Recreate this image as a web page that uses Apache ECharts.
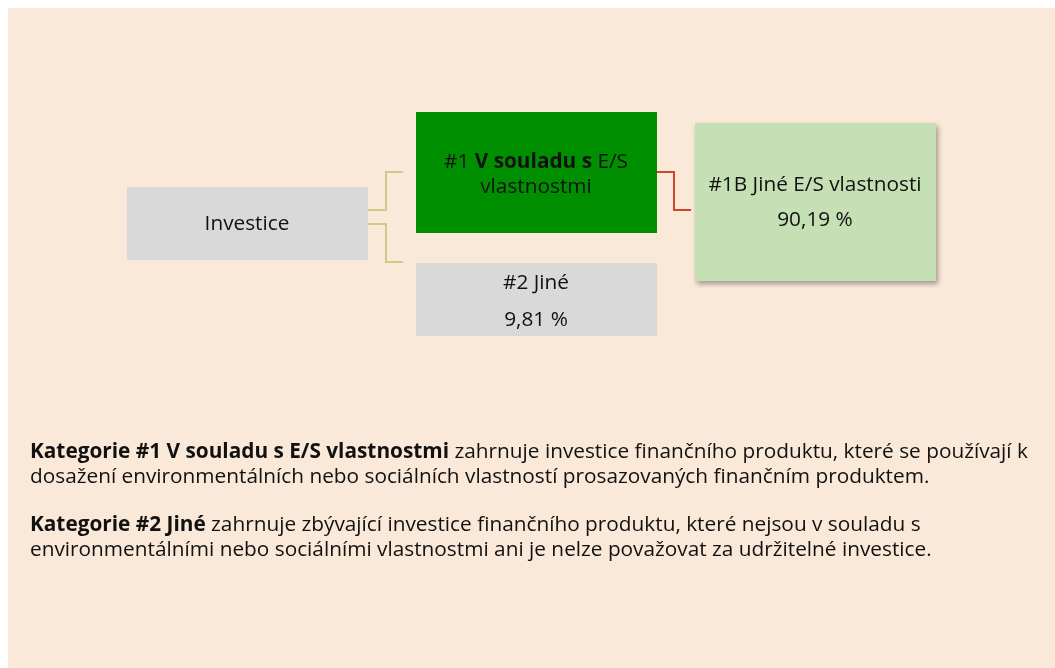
<!DOCTYPE html>
<html>
<head>
<meta charset="utf-8">
<script src="https://cdn.jsdelivr.net/npm/echarts@6/dist/echarts.min.js"></script>
<style>
  html, body { margin: 0; padding: 0; background: #fff; }
  #chart { width: 1055px; height: 668px; }
</style>
</head>
<body>
<div id="chart"></div>
<script>
// uzly diagramu
const rootName = 'Investice'
const mainCat = ['#1 ', 'V souladu s', ' E/S', 'vlastnostmi']
const otherCat = '#2 Jiné'
const subCat = '#1B Jiné E/S vlastnosti'
const shares = [90.19, 9.81] // #1B, #2

// popisky pod diagramem
const note1Bold = 'Kategorie #1 V souladu s E/S vlastnostmi'
const note1Rest = ' zahrnuje investice finančního produktu, které se používají k'
const note1Line2 = 'dosažení environmentálních nebo sociálních vlastností prosazovaných finančním produktem.'
const note2Bold = 'Kategorie #2 Jiné'
const note2Rest = ' zahrnuje zbývající investice finančního produktu, které nejsou v souladu s'
const note2Line2 = 'environmentálními nebo sociálními vlastnostmi ani je nelze považovat za udržitelné investice.'

const fmt = v => v.toFixed(2).replace('.', ',') + ' %'
const FONT = '"Open Sans", sans-serif'
const BOX_FS = 20.8
const NOTE_FS = 20.8

const chart = echarts.init(document.getElementById('chart'))

function box (x, y, w, h, fill, shadow) {
  const s = { fill: fill }
  if (shadow) {
    s.shadowBlur = 5
    s.shadowOffsetX = 2
    s.shadowOffsetY = 3
    s.shadowColor = 'rgba(0,0,0,0.35)'
  }
  return { type: 'rect', shape: { x: x, y: y, width: w, height: h }, style: s }
}
function txt (x, y, text, size) {
  return {
    type: 'text',
    x: x,
    y: y,
    style: {
      text: text,
      fill: '#111',
      font: size + 'px ' + FONT,
      align: 'center',
      verticalAlign: 'middle'
    }
  }
}
function elbow (pts, color, w) {
  return {
    type: 'polyline',
    shape: { points: pts },
    style: { stroke: color, lineWidth: w, fill: null }
  }
}
function richStyle (size) {
  return {
    n: { fontSize: size, fontFamily: FONT, fill: '#111', lineHeight: 25 },
    b: { fontSize: size, fontFamily: FONT, fontWeight: 'bold', fill: '#111', lineHeight: 25 }
  }
}

const option = {
  animation: false,
  graphic: [
    box(8, 8, 1047, 660, '#FAE8D8'),
    // spojnice
    elbow([[368, 210], [386, 210], [386, 172], [403, 172]], '#D2C88C', 2),
    elbow([[368, 224], [386, 224], [386, 262], [403, 262]], '#D2C88C', 2),
    elbow([[657, 172], [674, 172], [674, 210], [691, 210]], '#C9472B', 2),
    // bloky
    box(127, 187, 241, 73, '#D9D9D9'),
    txt(247, 224, rootName, BOX_FS),
    box(416, 112, 241, 121, '#008F00'),
    {
      type: 'text',
      x: 536,
      y: 175,
      style: {
        text: '{n|' + mainCat[0] + '}{b|' + mainCat[1] + '}{n|' + mainCat[2] + '}\n{n|' + mainCat[3] + '}',
        rich: richStyle(BOX_FS),
        align: 'center',
        verticalAlign: 'middle'
      }
    },
    box(416, 263, 241, 73, '#D9D9D9'),
    txt(536, 283, otherCat, BOX_FS),
    txt(536, 320, fmt(shares[1]), BOX_FS),
    box(695, 123, 241, 158, '#C5E0B4', true),
    txt(815, 185, subCat, BOX_FS),
    txt(815, 220, fmt(shares[0]), BOX_FS),
    // vysvětlivky
    {
      type: 'text',
      x: 30,
      y: 440,
      style: {
        text: '{b|' + note1Bold + '}{n|' + note1Rest + '}\n{n|' + note1Line2 + '}',
        rich: richStyle(NOTE_FS),
        align: 'left',
        verticalAlign: 'top'
      }
    },
    {
      type: 'text',
      x: 30,
      y: 513,
      style: {
        text: '{b|' + note2Bold + '}{n|' + note2Rest + '}\n{n|' + note2Line2 + '}',
        rich: richStyle(NOTE_FS),
        align: 'left',
        verticalAlign: 'top'
      }
    }
  ]
}
chart.setOption(option)
</script>
</body>
</html>
